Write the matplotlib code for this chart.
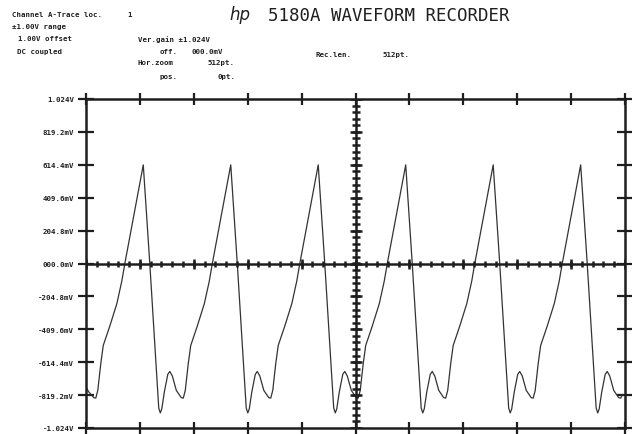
import numpy as np
import matplotlib
matplotlib.use('Agg')
import matplotlib.pyplot as plt

# trace: x in record points (0..512), y in mV
trace_x = [0, 2.7, 7.4, 9.3, 11.2, 14.1, 16.4, 22.6, 29.3, 34.0, 36.9,
           54.4, 60.6, 69.1, 70.6, 72.0, 74.4, 77.7, 79.6, 82.0, 85.8, 90.5, 92.4, 94.3, 97.2, 99.5, 105.7, 112.4, 117.1, 120.0,
           137.5, 143.7, 152.2, 153.7, 155.1, 157.5, 160.8, 162.7, 165.1, 168.9, 173.6, 175.5, 177.4, 180.3, 182.6, 188.8, 195.5, 200.2, 203.1,
           220.6, 226.8, 235.3, 236.8, 238.2, 240.6, 243.9, 245.8, 248.2, 252.0, 256.7, 258.6, 260.5, 263.4, 265.7, 271.9, 278.6, 283.3, 286.2,
           303.7, 309.9, 318.4, 319.9, 321.3, 323.7, 327.0, 328.9, 331.3, 335.1, 339.8, 341.7, 343.6, 346.5, 348.8, 355.0, 361.7, 366.4, 369.3,
           386.8, 393.0, 401.5, 403.0, 404.4, 406.8, 410.1, 412.0, 414.4, 418.2, 422.9, 424.8, 426.7, 429.6, 431.9, 438.1, 444.8, 449.5, 452.4,
           469.9, 476.1, 484.6, 486.1, 487.5, 489.9, 493.2, 495.1, 497.5, 501.3, 506.0, 507.9, 509.8]
trace_mv = [-770, -800, -835, -838, -790, -620, -510, -390, -250, -110, 0,
            614, 0, -900, -930, -905, -800, -690, -672, -700, -790, -835, -838, -790, -620, -510, -390, -250, -110, 0,
            614, 0, -900, -930, -905, -800, -690, -672, -700, -790, -835, -838, -790, -620, -510, -390, -250, -110, 0,
            614, 0, -900, -930, -905, -800, -690, -672, -700, -790, -835, -838, -790, -620, -510, -390, -250, -110, 0,
            614, 0, -900, -930, -905, -800, -690, -672, -700, -790, -835, -838, -790, -620, -510, -390, -250, -110, 0,
            614, 0, -900, -930, -905, -800, -690, -672, -700, -790, -835, -838, -790, -620, -510, -390, -250, -110, 0,
            614, 0, -900, -930, -905, -800, -690, -672, -700, -790, -835, -838, -815]

y_ticks = [1024, 819.2, 614.4, 409.6, 204.8, 0, -204.8, -409.6, -614.4, -819.2, -1024]
y_labels = ['1.024V', '819.2mV', '614.4mV', '409.6mV', '204.8mV', '000.0mV',
            '-204.8mV', '-409.6mV', '-614.4mV', '-819.2mV', '-1.024V']

ink = '#1e1e1e'
W, H = 632, 435

fig = plt.figure(figsize=(W / 100, H / 100), dpi=100)
ax = fig.add_axes([86 / W, 1 - 429 / H, (625 - 86) / W, (429 - 100) / H])

ax.plot(trace_x, trace_mv, color='#333333', lw=0.9)
ax.set_xlim(0, 512)
ax.set_ylim(-1024, 1024)

for s in ax.spines.values():
    s.set_linewidth(1.8)
    s.set_color(ink)

ax.set_yticks(y_ticks)
ax.set_yticklabels(y_labels, family='DejaVu Sans Mono', fontweight='bold', fontsize=5.3, color=ink)
ax.tick_params(axis='y', direction='inout', length=11, width=1.6, color=ink,
               left=True, right=True, pad=3)
ax.set_xticks(np.arange(0, 513, 51.2))
ax.tick_params(axis='x', direction='inout', length=8.5, width=1.6, color=ink,
               top=True, bottom=True, labelbottom=False)

# centre crosshair with its own graduations
ax.axhline(0, color=ink, lw=1.8)
ax.axvline(256, color=ink, lw=1.8)
minor_x = np.arange(0, 513, 10.24)
major_x = np.arange(0, 513, 51.2)
ax.plot(minor_x, np.zeros_like(minor_x), ls='none', marker='|', ms=4.5, mew=1.8, color=ink)
ax.plot(major_x, np.zeros_like(major_x), ls='none', marker='|', ms=7, mew=1.8, color=ink)
minor_y = np.arange(-1024, 1025, 40.96)
ax.plot(np.full_like(minor_y, 256), minor_y, ls='none', marker='_', ms=6, mew=1.8, color=ink)
ax.plot(np.full_like(np.array(y_ticks), 256), y_ticks, ls='none', marker='_', ms=8.5, mew=1.8, color=ink)


def txt(x, y, s, size=5.3, **kw):
    fig.text(x / W, 1 - y / H, s, fontsize=size, color=ink, va='center', ha='left', **kw)


mono = dict(family='DejaVu Sans Mono', fontweight='bold')
txt(12, 14.7, 'Channel A-Trace loc.', **mono)
txt(127, 14.7, '1', **mono)
txt(12, 26.7, '\u00b11.00V range', **mono)
txt(18, 39.3, '1.00V offset', **mono)
txt(17, 51.7, 'DC coupled', **mono)
txt(138, 39.3, 'Ver.gain \u00b11.024V', **mono)
txt(160, 51.7, 'off.', **mono)
txt(192, 51.7, '000.0mV', **mono)
txt(138, 63.3, 'Hor.zoom', **mono)
txt(207, 63.3, '512pt.', **mono)
txt(160, 77.3, 'pos.', **mono)
txt(217, 77.3, '0pt.', **mono)
txt(315, 55, 'Rec.len.', **mono)
txt(382, 55, '512pt.', **mono)

txt(229, 15, 'hp', size=12, family='DejaVu Sans', style='italic')
txt(268, 16, '5180A WAVEFORM RECORDER', size=12.5, family='DejaVu Sans Mono')

fig.savefig('out.png', dpi=100, facecolor='white')
